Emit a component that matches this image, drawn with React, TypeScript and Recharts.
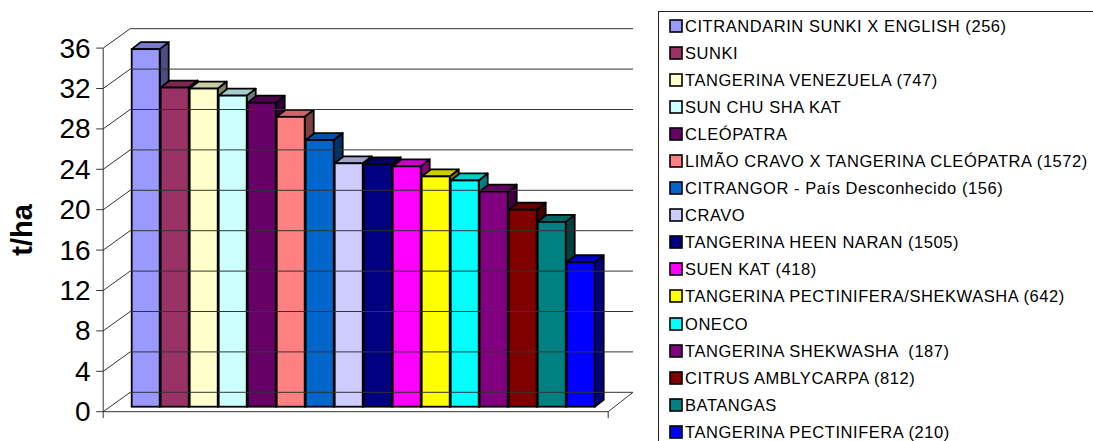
import React from 'react';
import { BarChart, Bar, XAxis, YAxis, Legend } from 'recharts';

// ---------- DATA ----------
const CATEGORIES = ['Porta-enxertos'];
const SERIES_NAMES = [
  'CITRANDARIN SUNKI X ENGLISH (256)',
  'SUNKI',
  'TANGERINA VENEZUELA (747)',
  'SUN CHU SHA KAT',
  'CLEÓPATRA',
  'LIMÃO CRAVO X TANGERINA CLEÓPATRA (1572)',
  'CITRANGOR - País Desconhecido (156)',
  'CRAVO',
  'TANGERINA HEEN NARAN (1505)',
  'SUEN KAT (418)',
  'TANGERINA PECTINIFERA/SHEKWASHA (642)',
  'ONECO',
  'TANGERINA SHEKWASHA  (187)',
  'CITRUS AMBLYCARPA (812)',
  'BATANGAS',
  'TANGERINA PECTINIFERA (210)',
];
const SERIES_VALUES = [35.4, 31.6, 31.5, 30.8, 30.1, 28.7, 26.4, 24.1, 24.0, 23.8, 22.8, 22.4, 21.3, 19.5, 18.3, 14.3];
const SERIES_COLORS = [
  '#9999FF', '#993366', '#FFFFCC', '#CCFFFF', '#660066', '#FF8080', '#0066CC', '#CCCCFF',
  '#000080', '#FF00FF', '#FFFF00', '#00FFFF', '#800080', '#800000', '#008080', '#0000FF',
];
const Y_TICKS = [0, 4, 8, 12, 16, 20, 24, 28, 32, 36];
const Y_LABEL = 't/ha';

const data = CATEGORIES.map((c) => {
  const row: Record<string, any> = { category: c };
  SERIES_NAMES.forEach((_, i) => {
    row['s' + i] = SERIES_VALUES[i];
  });
  return row;
});

// ---------- LAYOUT ----------
const W = 1093;
const H = 441;
const PLOT_LEFT = 110.7;
const PLOT_RIGHT = 615.7;
const PLOT_TOP = 43.1;
const PLOT_BOTTOM = 406.7;
const PLOT_H = PLOT_BOTTOM - PLOT_TOP;

const FRONT_DX = -7.5;
const FRONT_DY = 5;
const BACK_DX_L = 19.5;
const BACK_DX_R = 17.3;
const BACK_DY = -14.4;
const BAR_DX = 9;
const BAR_DY = -7;

const FONT = "'Liberation Sans', Arial, Helvetica, sans-serif";
const LINE = '#333';

function shade(hex: string, f: number) {
  const n = parseInt(hex.slice(1), 16);
  const r = Math.round(((n >> 16) & 255) * f);
  const g = Math.round(((n >> 8) & 255) * f);
  const b = Math.round((n & 255) * f);
  return `rgb(${r},${g},${b})`;
}

const Bar3D = (props: any) => {
  const { x, y, width, height, fill } = props;
  if (width == null || height == null) return null;
  const w = width;
  const h = height;
  const side = `${x + w},${y} ${x + w + BAR_DX},${y + BAR_DY} ${x + w + BAR_DX},${y + h + BAR_DY} ${x + w},${y + h}`;
  const top = `${x},${y} ${x + BAR_DX},${y + BAR_DY} ${x + w + BAR_DX},${y + BAR_DY} ${x + w},${y}`;
  return (
    <g>
      <polygon points={side} fill={shade(fill, 0.5)} stroke="#000" strokeWidth={1.8} strokeLinejoin="round" />
      <polygon points={top} fill={shade(fill, 0.8)} stroke="#000" strokeWidth={1.8} strokeLinejoin="round" />
      <rect x={x} y={y} width={w} height={h} fill={fill} stroke="#000" strokeWidth={1.8} />
    </g>
  );
};

const AxisTick = (props: any) => {
  const { x, y, payload } = props;
  const v = payload.value;
  const fx = x + FRONT_DX;
  const fy = y + FRONT_DY;
  const bx = x + BACK_DX_L;
  const by = y + BACK_DY;
  const frx = PLOT_RIGHT + FRONT_DX;
  const brx = PLOT_RIGHT + BACK_DX_R;
  return (
    <g>
      <line x1={bx} y1={by} x2={brx} y2={by} stroke={LINE} strokeWidth={1} />
      <line x1={fx} y1={fy} x2={bx} y2={by} stroke={LINE} strokeWidth={1} />
      <line x1={fx - 7} y1={fy} x2={fx} y2={fy} stroke={LINE} strokeWidth={1} />
      <text
        x={fx - 12.5}
        y={fy}
        textAnchor="end"
        dominantBaseline="central"
        fontFamily={FONT}
        fontSize={28}
        fill="#000"
      >
        {v}
      </text>
      {v === 0 && (
        <g>
          <line x1={fx} y1={fy + 6.5} x2={fx} y2={fy - PLOT_H} stroke={LINE} strokeWidth={1} />
          <line x1={fx} y1={fy} x2={frx} y2={fy} stroke={LINE} strokeWidth={1} />
          <line x1={frx} y1={fy} x2={brx} y2={by} stroke={LINE} strokeWidth={1} />
          <line x1={frx} y1={fy} x2={frx} y2={fy + 6.5} stroke={LINE} strokeWidth={1} />
        </g>
      )}
    </g>
  );
};

const YLabel = () => {
  const cx = 22.5;
  const cy = (PLOT_TOP + PLOT_BOTTOM) / 2 + 5;
  return (
    <text
      x={cx}
      y={cy}
      transform={`rotate(-90 ${cx} ${cy})`}
      textAnchor="middle"
      dominantBaseline="central"
      fontFamily={FONT}
      fontWeight="bold"
      fontSize={29}
      fill="#000"
    >
      {Y_LABEL}
    </text>
  );
};

const LegendContent = () => {
  const items = SERIES_NAMES.map((n, i) => ({ name: n, color: SERIES_COLORS[i] }));
  return (
    <div
      style={{
        width: 460,
        height: 460,
        borderLeft: '1px solid #222',
        borderTop: '1px solid #222',
        boxSizing: 'border-box',
        fontFamily: FONT,
        background: '#fff',
      }}
    >
      {items.map((it, i) => (
        <div
          key={i}
          style={{
            height: 27.1,
            display: 'flex',
            alignItems: 'center',
            paddingLeft: 10,
            whiteSpace: 'pre',
          }}
        >
          <svg width={14} height={14} style={{ flex: '0 0 auto' }}>
            <rect x={1} y={1} width={12} height={12} fill={it.color} stroke="#000" strokeWidth={1.6} />
          </svg>
          <span style={{ marginLeft: 2, fontSize: 16.5, letterSpacing: 0.55, color: '#000', lineHeight: '18px' }}>
            {it.name}
          </span>
        </div>
      ))}
    </div>
  );
};

export default function App() {
  return (
    <div
      style={{
        position: 'absolute',
        left: 0,
        top: 0,
        width: W,
        height: H,
        overflow: 'hidden',
        background: '#fff',
      }}
    >
      <BarChart
        width={W}
        height={H}
        data={data}
        margin={{ top: PLOT_TOP, right: W - PLOT_RIGHT, bottom: H - PLOT_BOTTOM, left: 0 }}
        barCategoryGap={21}
        barGap={1}
      >
        <XAxis dataKey="category" type="category" hide />
        <YAxis
          type="number"
          domain={[0, 36]}
          ticks={Y_TICKS}
          interval={0}
          width={PLOT_LEFT}
          axisLine={false}
          tickLine={false}
          tickSize={0}
          tickMargin={0}
          tick={<AxisTick />}
          label={<YLabel />}
          zIndex={-10}
        />
        <Legend
          layout="vertical"
          align="center"
          verticalAlign="middle"
          wrapperStyle={{ left: 658, top: 11, width: 460, height: 460 }}
          content={<LegendContent />}
        />
        {SERIES_NAMES.map((name, i) => (
          <Bar
            key={name}
            dataKey={'s' + i}
            name={name}
            fill={SERIES_COLORS[i]}
            isAnimationActive={false}
            shape={<Bar3D />}
          />
        ))}
      </BarChart>
    </div>
  );
}
